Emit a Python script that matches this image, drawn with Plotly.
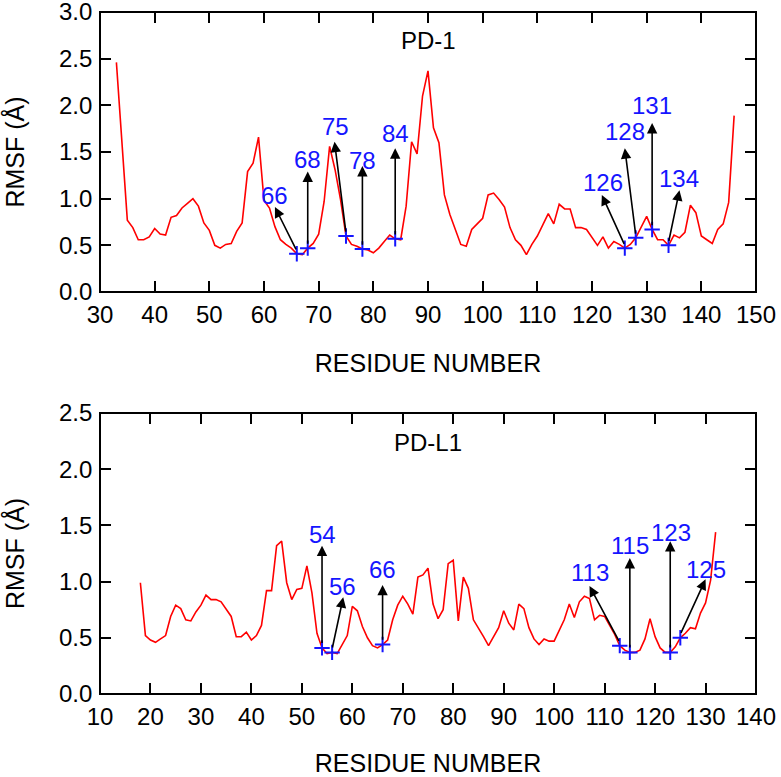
import plotly.graph_objects as go

# ---------------- PD-1 data ----------------
pd1_res = list(range(33, 147))
pd1_rmsf = [2.46, 1.60, 0.77, 0.69, 0.56, 0.56, 0.59, 0.68, 0.62, 0.61,
            0.80, 0.82, 0.90, 0.95, 1.00, 0.92, 0.74, 0.66, 0.50, 0.47,
            0.51, 0.52, 0.65, 0.74, 1.29, 1.38, 1.66, 0.98, 0.90, 0.70,
            0.56, 0.51, 0.47, 0.41, 0.40, 0.47, 0.52, 0.62, 0.97, 1.56,
            1.31, 0.99, 0.60, 0.51, 0.49, 0.46, 0.45, 0.42, 0.47, 0.54,
            0.61, 0.57, 0.56, 0.92, 1.61, 1.48, 2.10, 2.37, 1.76, 1.60,
            1.04, 0.83, 0.68, 0.51, 0.49, 0.67, 0.73, 0.79, 1.04, 1.06,
            0.99, 0.91, 0.69, 0.56, 0.50, 0.40, 0.51, 0.60, 0.72, 0.84,
            0.73, 0.94, 0.89, 0.89, 0.69, 0.69, 0.67, 0.58, 0.50, 0.59,
            0.47, 0.54, 0.51, 0.47, 0.51, 0.58, 0.70, 0.81, 0.67, 0.56,
            0.56, 0.50, 0.61, 0.58, 0.64, 0.93, 0.85, 0.60, 0.56, 0.52,
            0.67, 0.73, 0.96, 1.89]
pd1_marks = [66, 68, 75, 78, 84, 126, 128, 131, 134]
# arrow tips and label centres (data units)
pd1_tip_x = [62.0, 68.0, 72.9, 78.0, 84.0, 121.8, 126.0, 131.0, 136.0]
pd1_tip_y = [0.91, 1.29, 1.61, 1.35, 1.54, 1.04, 1.54, 1.81, 1.09]
pd1_lab_x = [62.0, 67.9, 73.1, 78.1, 84.0, 122.0, 126.0, 130.9, 136.0]
pd1_lab_y = [1.03, 1.42, 1.77, 1.41, 1.70, 1.17, 1.72, 2.00, 1.22]

# ---------------- PD-L1 data ----------------
pdl1_res = list(range(18, 133))
pdl1_rmsf = [0.99, 0.52, 0.48, 0.46, 0.49, 0.52, 0.69, 0.79, 0.76, 0.66,
             0.65, 0.73, 0.79, 0.88, 0.84, 0.84, 0.82, 0.75, 0.69, 0.51,
             0.51, 0.55, 0.48, 0.52, 0.61, 0.92, 0.92, 1.32, 1.36, 0.99,
             0.84, 0.93, 0.94, 1.14, 0.90, 0.54, 0.41, 0.36, 0.37, 0.36,
             0.44, 0.52, 0.78, 0.74, 0.60, 0.50, 0.43, 0.41, 0.44, 0.48,
             0.66, 0.79, 0.87, 0.80, 0.71, 1.04, 1.06, 1.12, 0.80, 0.67,
             0.75, 1.16, 1.19, 0.65, 1.04, 0.94, 0.66, 0.59, 0.51, 0.43,
             0.51, 0.59, 0.74, 0.63, 0.57, 0.80, 0.76, 0.59, 0.49, 0.44,
             0.49, 0.47, 0.47, 0.56, 0.66, 0.80, 0.68, 0.82, 0.87, 0.85,
             0.66, 0.70, 0.69, 0.61, 0.53, 0.43, 0.39, 0.37, 0.37, 0.39,
             0.49, 0.67, 0.51, 0.41, 0.37, 0.37, 0.42, 0.50, 0.54, 0.59,
             0.58, 0.72, 0.81, 1.01, 1.44]
pdl1_marks = [54, 56, 66, 113, 115, 123, 125]
pdl1_tip_x = [54.0, 58.2, 66.0, 107.0, 115.0, 123.0, 130.0]
pdl1_tip_y = [1.32, 0.86, 0.97, 0.96, 1.21, 1.36, 1.02]
pdl1_lab_x = [54.0, 58.1, 66.0, 107.1, 115.0, 123.1, 130.0]
pdl1_lab_y = [1.42, 0.96, 1.11, 1.08, 1.32, 1.44, 1.11]

FONT = "Liberation Sans, Arial, sans-serif"
BLUE = "#1515ff"
RED = "#ff0000"

fig = go.Figure()

# invisible traces so the mirrored (top / right) tick axes are drawn (drawn first, underneath)
fig.add_trace(go.Scatter(x=[], y=[], xaxis="x3", yaxis="y3", showlegend=False, hoverinfo="skip"))
fig.add_trace(go.Scatter(x=[], y=[], xaxis="x4", yaxis="y4", showlegend=False, hoverinfo="skip"))

def add_panel(res, vals, marks, xa, ya):
    fig.add_trace(go.Scatter(x=res, y=vals, mode="lines", xaxis=xa, yaxis=ya,
                             line=dict(color=RED, width=1.6), showlegend=False))
    fig.add_trace(go.Scatter(x=marks, y=[vals[res.index(r)] for r in marks],
                             mode="markers", xaxis=xa, yaxis=ya, showlegend=False,
                             marker=dict(symbol="cross-thin", size=11,
                                         line=dict(color=BLUE, width=2))))

add_panel(pd1_res, pd1_rmsf, pd1_marks, "x", "y")
add_panel(pdl1_res, pdl1_rmsf, pdl1_marks, "x2", "y2")

annotations = []
def add_labels(marks, res, vals, tx, ty, lx, ly, xr, yr):
    for m, ax_, ay_, bx, by in zip(marks, tx, ty, lx, ly):
        v = vals[res.index(m)]
        annotations.append(dict(x=ax_, y=ay_, ax=m, ay=v + 0.03, xref=xr, yref=yr,
                                axref=xr, ayref=yr, text="", showarrow=True,
                                arrowhead=2, arrowsize=1.3, arrowwidth=1.6,
                                arrowcolor="black"))
        annotations.append(dict(x=bx, y=by, xref=xr, yref=yr, text=str(m),
                                showarrow=False, font=dict(family=FONT, size=24, color=BLUE)))

add_labels(pd1_marks, pd1_res, pd1_rmsf, pd1_tip_x, pd1_tip_y, pd1_lab_x, pd1_lab_y, "x", "y")
add_labels(pdl1_marks, pdl1_res, pdl1_rmsf, pdl1_tip_x, pdl1_tip_y, pdl1_lab_x, pdl1_lab_y, "x2", "y2")

annotations.append(dict(x=0.5, y=2.69, xref="x domain", yref="y", text="PD-1", showarrow=False,
                        font=dict(family=FONT, size=24, color="black")))
annotations.append(dict(x=0.5, y=2.24, xref="x2 domain", yref="y2", text="PD-L1", showarrow=False,
                        font=dict(family=FONT, size=24, color="black")))

shapes = [dict(type="rect", xref=f"{xa} domain", yref=f"{ya} domain", x0=0, x1=1, y0=0, y1=1,
               line=dict(color="black", width=2), layer="above")
          for xa, ya in (("x", "y"), ("x2", "y2"))]

tick_common = dict(ticks="inside", ticklen=11, tickwidth=2, tickcolor="black",
                   showgrid=False, zeroline=False, automargin=False, showline=False,
                   ticklabeloverflow="allow",
                   tickfont=dict(family=FONT, size=24, color="black"),
                   title_font=dict(family=FONT, size=25, color="black"))

XD = [100/781, 756/781]
YD1 = [1-292/777, 1-12/777]
YD2 = [1-694/777, 1-413/777]

fig.update_layout(
    width=781, height=777,
    margin=dict(l=0, r=0, t=0, b=0),
    plot_bgcolor="rgba(0,0,0,0)", paper_bgcolor="white",
    annotations=annotations, shapes=shapes,
    xaxis=dict(domain=XD, anchor="y", range=[30, 150], dtick=10, tick0=30,
               ticklabelstandoff=6,
               title=dict(text="RESIDUE NUMBER", standoff=27), **tick_common),
    yaxis=dict(domain=YD1, anchor="x", range=[0, 3], dtick=0.5, tickformat=".1f",
               ticksuffix=" ",
               title=dict(text="RMSF (Å)", standoff=29), **tick_common),
    xaxis2=dict(domain=XD, anchor="y2", range=[10, 140], dtick=10, tick0=10,
                ticklabelstandoff=6,
                title=dict(text="RESIDUE NUMBER", standoff=27), **tick_common),
    yaxis2=dict(domain=YD2, anchor="x2", range=[0, 2.5], dtick=0.5, tickformat=".1f",
                ticksuffix=" ",
                title=dict(text="RMSF (Å)", standoff=29), **tick_common),
    # mirrored ticks on top and right edges
    xaxis3=dict(domain=XD, anchor="y3", side="top", range=[30, 150], dtick=10, tick0=30,
                showticklabels=False, **tick_common),
    yaxis3=dict(domain=YD1, anchor="x3", side="right", range=[0, 3], dtick=0.5,
                showticklabels=False, **tick_common),
    xaxis4=dict(domain=XD, anchor="y4", side="top", range=[10, 140], dtick=10, tick0=10,
                showticklabels=False, **tick_common),
    yaxis4=dict(domain=YD2, anchor="x4", side="right", range=[0, 2.5], dtick=0.5,
                showticklabels=False, **tick_common),
)

fig.write_html("out.html", config={"displayModeBar": False},
               post_script="document.body.style.margin='0px';document.body.style.overflow='hidden';")
